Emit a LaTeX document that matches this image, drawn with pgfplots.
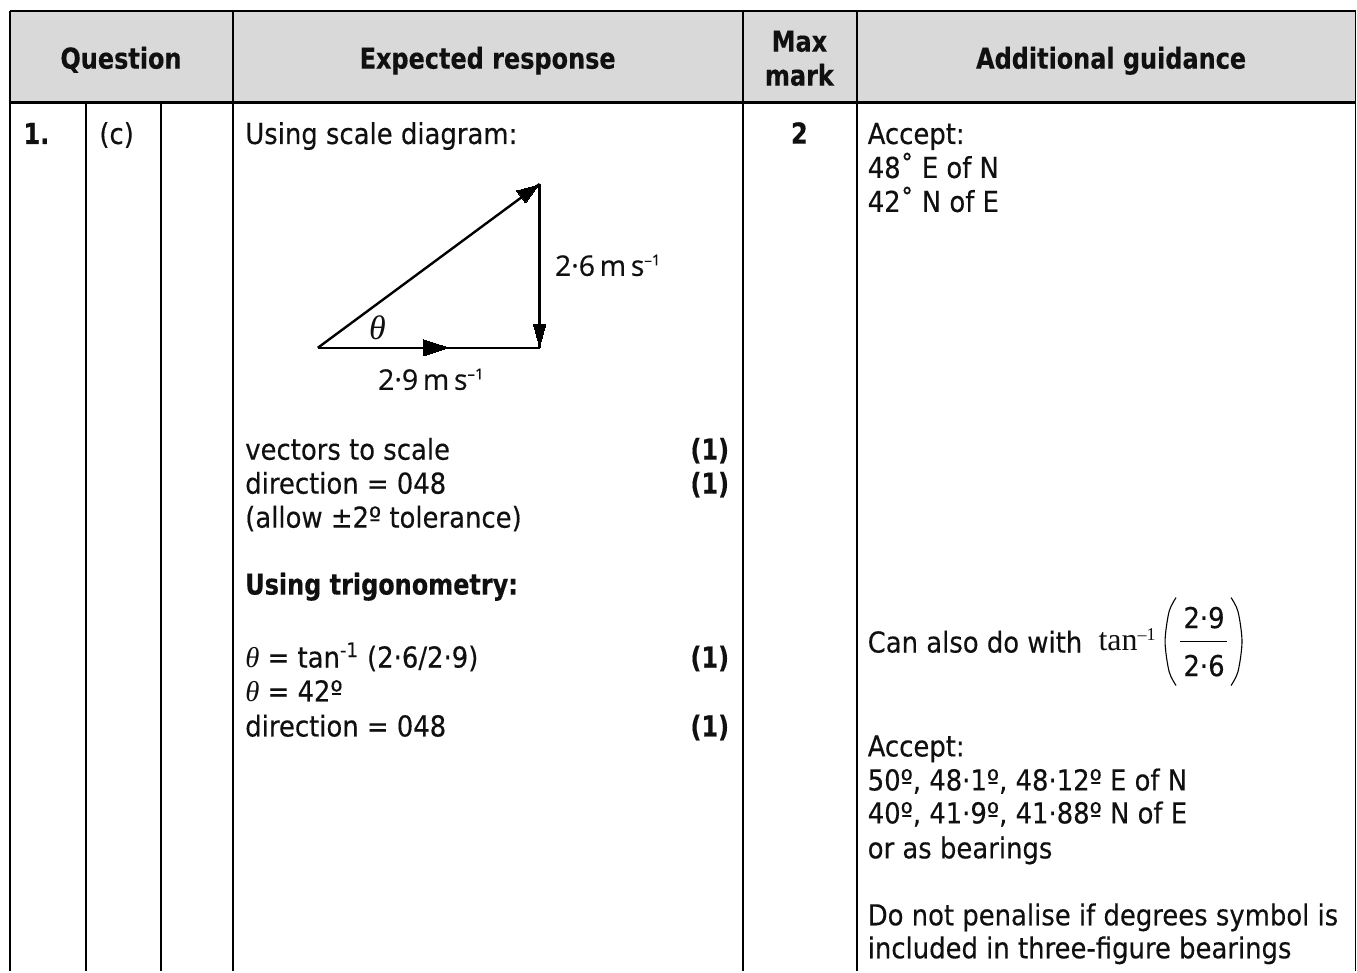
\documentclass[border=0pt]{standalone}
\usepackage{fontspec}
\usepackage{pgfplots}
\pgfplotsset{compat=1.18}
\setmainfont[RawFeature={embolden=0.35},BoldFeatures={FakeStretch=0.925}]{DejaVu Sans Condensed}
\newfontfamily\timesf{Liberation Serif}
\newfontfamily\figf[RawFeature={embolden=0.5}]{Open Sans}
\newcommand{\T}[3]{\node[anchor=base west,inner sep=0pt,text=txt,yshift=-0.5pt] at (axis cs:#1,#2) {\smash{#3}};}
\newcommand{\TC}[3]{\node[anchor=base,inner sep=0pt,text=txt,yshift=-0.3pt] at (axis cs:#1,#2) {\smash{#3}};}
\newcommand{\TR}[3]{\node[anchor=base east,inner sep=0pt,text=txt,yshift=-0.5pt] at (axis cs:#1,#2) {\smash{#3}};}
\definecolor{txt}{HTML}{101010}
\definecolor{hdr}{HTML}{D9D9D9}
\begin{document}
\begin{tikzpicture}
\begin{axis}[
  scale only axis, width=678.5pt, height=486pt,
  xmin=0, xmax=1357, ymin=0, ymax=972, y dir=reverse,
  axis lines=none, clip=false,
  font=\fontsize{14.4}{17}\selectfont,
]
% page extent
\addplot[white, line width=0.1pt, forget plot] coordinates {(0,0) (1357,0) (1357,972) (0,972) (0,0)};
% header fill
\addplot[draw=none, fill=hdr, forget plot] coordinates {(10,11) (1357,11) (1357,102) (10,102)} --cycle;
% grid
\addplot[black, line width=0.85pt] coordinates {(10,11) (1357,11)};
\addplot[black, line width=1.1pt] coordinates {(10,102.5) (1357,102.5)};
\addplot[black, line width=0.9pt] coordinates {(10,11) (10,972)};
\addplot[black, line width=0.9pt] coordinates {(233,11) (233,972)};
\addplot[black, line width=0.9pt] coordinates {(743.5,11) (743.5,972)};
\addplot[black, line width=0.9pt] coordinates {(857.5,11) (857.5,972)};
\addplot[black, line width=0.85pt] coordinates {(1356.5,11) (1356.5,972)};
\addplot[black, line width=0.9pt] coordinates {(86,102) (86,972)};
\addplot[black, line width=0.9pt] coordinates {(161,102) (161,972)};
% triangle
\addplot[black, line width=1.2pt] coordinates {(318,348) (540,348)};
\addplot[black, line width=1.2pt] coordinates {(540,184) (540,348)};
\addplot[black, line width=1.2pt] coordinates {(318,348) (540,184)};
\addplot[black, fill=black, line width=0pt] coordinates {(449,348) (424,340) (424,356)} --cycle;
\addplot[black, fill=black, line width=0pt] coordinates {(540,347) (534,325) (546,325)} --cycle;
\addplot[black, fill=black, line width=0pt] coordinates {(539,185) (517,191) (526,203)} --cycle;
% fraction
\addplot[black, line width=0.6pt] coordinates {(1181,642) (1228,642)};
\addplot[black, line width=0.55pt, smooth] coordinates {(1177,598) (1170,612) (1166,642) (1170,672) (1177,686)};
\addplot[black, line width=0.55pt, smooth] coordinates {(1232,598) (1239,612) (1243,642) (1239,672) (1232,686)};
% header text
\TC{121}{68}{\bfseries Question}
\TC{488}{68}{\bfseries Expected response}
\TC{800}{51}{\bfseries Max}
\TC{800}{85}{\bfseries mark}
\TC{1112}{68}{\bfseries Additional guidance}
% row
\T{23}{143}{\bfseries 1.}
\T{99}{143}{(c)}
\T{245}{143}{Using scale diagram:}
\TC{800}{143}{\bfseries 2}
\T{245}{459}{vectors to scale}
\T{245}{493}{direction = 048}
\T{245}{527}{(allow ±2º tolerance)}
\T{245}{594}{\bfseries Using trigonometry:}
\T{245}{667}{{\timesf\itshape θ} = tan\textsuperscript{-1} (2·6/2·9)}
\T{245}{701}{{\timesf\itshape θ} = 42º}
\T{245}{736}{direction = 048}
\TR{730}{459}{\bfseries (1)}
\TR{730}{493}{\bfseries (1)}
\TR{730}{667}{\bfseries (1)}
\TR{730}{736}{\bfseries (1)}
% diagram labels
\T{555}{275}{\figf\fontsize{14.2}{16}\selectfont 2·6\,m\,s\textsuperscript{\fontsize{7.5}{8}\selectfont –1}}
\T{378}{389}{\figf\fontsize{14.2}{16}\selectfont 2·9\,m\,s\textsuperscript{\fontsize{7.5}{8}\selectfont –1}}
\T{369}{339}{\timesf\itshape\fontsize{17}{17}\selectfont θ}
% guidance
\T{868}{143}{Accept:}
\T{868}{177}{48˚ E of N}
\T{868}{211}{42˚ N of E}
\T{868}{652}{Can also do with}
\T{1099}{650}{\timesf\fontsize{16}{16}\selectfont tan\raisebox{5pt}{\fontsize{9}{9}\selectfont –1}}
\TC{1205}{628}{2·9}
\TC{1205}{676}{2·6}
\T{868}{756}{Accept:}
\T{868}{790}{50º, 48·1º, 48·12º E of N}
\T{868}{823}{40º, 41·9º, 41·88º N of E}
\T{868}{858}{or as bearings}
\T{868}{925}{Do not penalise if degrees symbol is}
\T{868}{958}{included in three-figure bearings}
\end{axis}
\end{tikzpicture}
\end{document}
